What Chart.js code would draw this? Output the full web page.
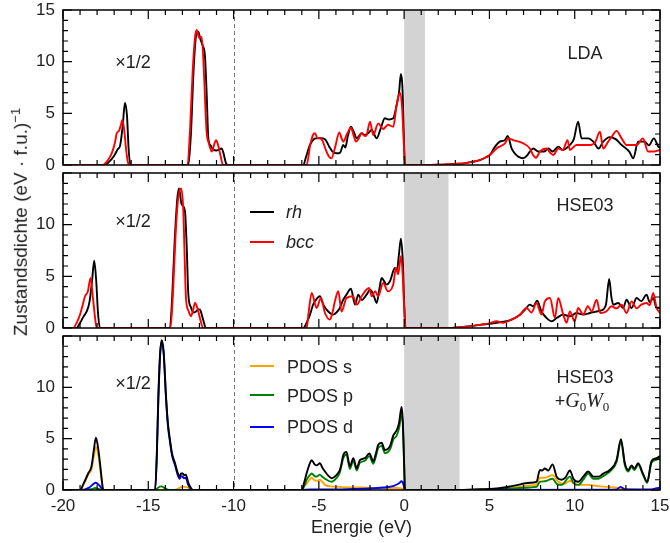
<!DOCTYPE html>
<html>
<head>
<meta charset="utf-8">
<script src="https://cdn.jsdelivr.net/npm/chart.js@4.4.1/dist/chart.umd.min.js"></script>
<style>
  body { margin: 0; background: #fff; }
  #wrap { position: relative; width: 670px; height: 543px; overflow: hidden; font-family: 'Liberation Sans', Arial, sans-serif; color: #222; }
  canvas { position: absolute; left: 0; top: 0; }
  .lbl { position: absolute; transform: translate(-50%, -50%); white-space: nowrap; font-size: 18px; }
  .leg { position: absolute; transform: translateY(-50%); white-space: nowrap; font-size: 18px; }
  .sw { position: absolute; width: 24px; height: 0; border-top: 2px solid; margin-top: -1px; }
  .m { font-family: 'Liberation Serif', serif; font-style: italic; font-size: 20px; }
  sub { font-size: 13px; font-family: 'Liberation Serif', serif; }
</style>
</head>
<body>
<div id="wrap">
  <canvas id="p1" width="670" height="543"></canvas>
  <canvas id="p2" width="670" height="543"></canvas>
  <canvas id="p3" width="670" height="543"></canvas>

  <div class="lbl" style="left:20px;top:222px;font-size:19px;transform:translate(-50%,-50%) rotate(-90deg)">Zustandsdichte (eV · f.u.)<sup style="font-size:13px">−1</sup></div>

  <div class="lbl" style="left:133px;top:62px">×1/2</div>
  <div class="lbl" style="left:133px;top:221px">×1/2</div>
  <div class="lbl" style="left:133px;top:383px">×1/2</div>

  <div class="lbl" style="left:585px;top:53px">LDA</div>
  <div class="lbl" style="left:585px;top:205px">HSE03</div>
  <div class="lbl" style="left:585px;top:377px">HSE03</div>
  <div class="lbl" style="left:582px;top:402px">+<span class="m">G</span><sub>0</sub><span class="m">W</span><sub>0</sub></div>

  <div class="sw" style="left:250px;top:212px;border-color:#000"></div>
  <div class="leg" style="left:286px;top:212px;font-style:italic">rh</div>
  <div class="sw" style="left:250px;top:242px;border-color:#f00"></div>
  <div class="leg" style="left:286px;top:242px;font-style:italic">bcc</div>

  <div class="sw" style="left:250px;top:366px;border-color:#ffa500"></div>
  <div class="leg" style="left:287px;top:367px">PDOS s</div>
  <div class="sw" style="left:250px;top:395px;border-color:#008000"></div>
  <div class="leg" style="left:287px;top:396px">PDOS p</div>
  <div class="sw" style="left:250px;top:427px;border-color:#0000ff"></div>
  <div class="leg" style="left:287px;top:427px">PDOS d</div>
</div>
<script>
const xTickValues = [-20, -15, -10, -5, 0, 5, 10, 15];
const yTickValues = [0, 5, 10, 15];
// upper edge of the gap (grey) per panel, eV
const gapEnds = [1.22, 2.6, 3.25];
const coreCut = -10;

// [energy, DOS]
const ldaRh = [
  [-20,0],[-17.55,0],[-17.3,0.3],[-17.0,0.9],[-16.8,1.5],[-16.65,1.9],[-16.5,3.8],[-16.37,6.0],[-16.25,4.8],[-16.15,1.5],[-16.05,0],
  [-12.65,0],[-12.5,3],[-12.35,9],[-12.2,12.5],[-12.07,12.9],[-11.95,12.2],[-11.8,11.5],[-11.68,10.6],[-11.58,7],[-11.48,2.6],[-11.35,1.9],[-11.2,1.5],[-11.0,1.4],[-10.85,1.5],[-10.7,1.6],[-10.6,1.2],[-10.45,0.2],[-10.35,0],
  [-6.2,0],[-5.91,0],[-5.75,0.8],[-5.52,1.94],[-5.3,2.5],[-5.13,2.58],[-4.9,2.6],[-4.64,2.5],[-4.4,1.8],[-4.2,1.3],[-3.96,1.13],[-3.75,1.2],[-3.57,1.94],[-3.45,1.7],[-3.3,2.8],[-3.12,3.7],[-2.95,3.2],[-2.78,2.58],[-2.49,3.07],[-2.3,2.9],[-2.1,3.1],[-1.9,3.39],[-1.61,2.58],[-1.4,3.4],[-1.13,4.52],[-0.9,4.4],[-0.64,4.52],[-0.44,5.8],[-0.3,7.0],[-0.19,8.8],[-0.1,7.5],[-0.03,3.5],[0.05,0],
  [1.3,0],[2,0.02],[2.5,0.05],[3,0.1],[3.5,0.16],[4,0.3],[4.44,0.48],[4.8,0.75],[5.03,0.97],[5.3,1.7],[5.61,2.26],[5.9,2.4],[6.07,2.8],[6.3,1.6],[6.5,1.1],[6.69,0.81],[6.98,0.65],[7.2,0.9],[7.37,1.3],[7.57,1.6],[7.86,1.3],[8.2,1.3],[8.45,1.6],[8.7,1.3],[9.04,1.78],[9.3,1.45],[9.72,1.94],[9.95,2.5],[10.2,4.2],[10.4,2.58],[10.8,2.58],[11.09,2.26],[11.4,1.6],[11.67,2.26],[12.06,2.7],[12.4,2.5],[12.75,1.94],[13.2,1.3],[13.43,0.65],[13.72,2.26],[14.1,2.26],[14.35,1.9],[14.64,2.58],[14.9,1.78],[15,1.7]
];
const ldaBcc = [
  [-20,0],[-17.65,0],[-17.4,0.4],[-17.15,1.1],[-16.95,2.2],[-16.85,3.07],[-16.72,3.3],[-16.6,3.9],[-16.52,4.35],[-16.4,3.2],[-16.3,1.5],[-16.2,0.3],[-16.1,0],
  [-12.7,0],[-12.55,3.5],[-12.4,9],[-12.25,12.5],[-12.16,13.07],[-12.02,12.3],[-11.87,12.4],[-11.75,9.5],[-11.65,5.5],[-11.58,3.2],[-11.45,2.1],[-11.28,1.3],[-11.15,1.9],[-11.03,2.4],[-10.9,1.9],[-10.75,0.8],[-10.62,0],
  [-6.2,0],[-5.72,0],[-5.5,2.0],[-5.35,2.9],[-5.23,3.07],[-5.08,2.6],[-4.94,2.58],[-4.8,2.4],[-4.6,1.5],[-4.4,0.8],[-4.26,0.65],[-4.05,1.7],[-3.8,3.16],[-3.67,2.6],[-3.57,2.26],[-3.35,3.0],[-3.12,3.6],[-2.95,2.8],[-2.83,2.26],[-2.65,2.6],[-2.5,3.07],[-2.3,2.8],[-2.2,2.9],[-2.0,4.2],[-1.81,2.9],[-1.52,4.03],[-1.23,3.48],[-0.95,3.9],[-0.64,3.7],[-0.44,5.8],[-0.25,7.0],[-0.12,5.5],[-0.03,2.5],[0.05,0],
  [1.3,0],[2,0.02],[2.5,0.05],[3,0.1],[3.5,0.16],[4,0.3],[4.44,0.48],[4.8,0.75],[5.03,0.97],[5.42,1.6],[5.91,2.1],[6.1,2.58],[6.4,2.4],[6.98,2.1],[7.37,1.6],[7.55,1.0],[7.73,0.7],[7.96,1.3],[8.35,1.6],[8.55,1.2],[8.74,0.97],[9.04,1.6],[9.3,1.45],[9.58,2.4],[9.72,1.45],[10.1,1.94],[10.9,1.94],[11.2,2.2],[11.48,3.23],[11.67,1.6],[11.96,2.26],[12.2,2.8],[12.45,3.3],[12.75,2.58],[13.04,1.94],[13.63,1.94],[14.0,2.58],[14.3,1.3],[14.6,1.3],[15,1.45]
];
const hseRh = [
  [-20,0],[-19.2,0],[-19.0,0.5],[-18.8,1.1],[-18.61,1.6],[-18.45,2.5],[-18.3,4.5],[-18.17,6.52],[-18.05,4.5],[-17.95,1.5],[-17.83,0],
  [-13.73,0],[-13.6,3],[-13.45,8.5],[-13.3,12.5],[-13.2,13.5],[-13.05,12.0],[-12.85,11.3],[-12.75,8],[-12.65,3.2],[-12.5,2.0],[-12.35,1.5],[-12.2,1.6],[-12.05,1.8],[-11.97,1.78],[-11.85,1.2],[-11.7,0.3],[-11.62,0],
  [-6.2,0],[-5.91,0],[-5.72,0.5],[-5.52,1.29],[-5.35,2.2],[-5.23,2.58],[-4.94,3.07],[-4.74,2.26],[-4.45,1.6],[-4.16,1.29],[-3.97,1.5],[-3.77,1.94],[-3.57,2.74],[-3.38,3.23],[-3.12,3.8],[-2.88,2.26],[-2.69,3.23],[-2.49,2.7],[-2.2,3.23],[-2.0,3.7],[-1.8,3.2],[-1.61,2.42],[-1.45,3.8],[-1.32,4.84],[-1.03,4.2],[-0.84,4.5],[-0.54,5.8],[-0.42,5.6],[-0.3,7.2],[-0.19,8.65],[-0.08,6.5],[0.0,2.5],[0.08,0],
  [2.7,0],[3.47,0.1],[4.44,0.3],[5.42,0.5],[6.3,0.81],[6.79,1.29],[7.1,1.8],[7.37,2.26],[7.57,2.1],[7.8,2.64],[8.05,1.6],[8.35,0.97],[8.65,0.65],[8.94,0.97],[9.33,1.29],[9.72,1.13],[10.1,1.45],[10.5,1.3],[10.9,1.45],[11.28,1.6],[11.55,1.7],[11.83,2.26],[12.02,4.74],[12.15,3.0],[12.26,2.26],[12.55,2.42],[12.84,1.94],[13.04,2.74],[13.33,1.94],[13.63,2.9],[13.9,2.6],[14.21,3.23],[14.4,2.5],[14.6,2.9],[14.8,1.94],[15,1.94]
];
const hseBcc = [
  [-20,0],[-19.4,0],[-19.2,0.5],[-19.0,1.3],[-18.85,2.2],[-18.71,3.07],[-18.55,3.5],[-18.38,4.84],[-18.25,3.0],[-18.12,1.0],[-18.03,0],
  [-13.7,0],[-13.55,3.5],[-13.4,9],[-13.25,12.5],[-13.08,13.5],[-12.95,11.5],[-12.87,7],[-12.79,2.9],[-12.65,1.7],[-12.5,1.13],[-12.38,1.7],[-12.26,2.42],[-12.1,1.8],[-11.95,0.8],[-11.78,0],
  [-6.2,0],[-5.72,0],[-5.6,1.5],[-5.42,3.39],[-5.13,1.94],[-4.88,2.9],[-4.64,1.45],[-4.35,0.81],[-4.2,1.5],[-4.06,2.58],[-3.86,3.55],[-3.67,1.6],[-3.38,2.9],[-3.0,3.07],[-2.78,2.26],[-2.49,3.07],[-2.06,3.87],[-1.9,3.07],[-1.7,3.55],[-1.52,3.07],[-1.23,4.36],[-0.95,3.55],[-0.64,4.2],[-0.48,5.8],[-0.35,5.2],[-0.19,6.94],[-0.08,5.0],[0.0,2.0],[0.07,0],
  [2.7,0],[3.47,0.1],[4.44,0.3],[5.0,0.45],[5.42,0.65],[5.8,0.5],[6.3,0.81],[6.79,1.29],[7.18,1.94],[7.47,1.5],[7.76,2.42],[8.05,1.29],[8.25,2.58],[8.55,2.9],[8.84,0.97],[9.03,2.9],[9.33,1.29],[9.52,0.5],[9.72,1.6],[10.0,0.65],[10.2,1.94],[10.5,1.3],[10.77,2.1],[11.0,1.6],[11.28,2.74],[11.5,1.45],[11.85,1.6],[12.16,2.1],[12.45,1.9],[12.75,2.26],[13.04,1.45],[13.33,2.58],[13.63,1.9],[13.9,2.26],[14.21,2.42],[14.4,2.2],[14.6,3.39],[14.8,1.94],[15,1.45]
];
const gwTotal = [
  [-20,0],[-19.0,0],[-18.8,0.6],[-18.52,1.63],[-18.33,2.3],[-18.2,3.8],[-18.07,5.1],[-17.95,4.2],[-17.83,2.6],[-17.72,0.9],[-17.64,0],
  [-14.6,0],[-14.5,3.5],[-14.41,9.1],[-14.3,13.5],[-14.21,14.6],[-14.1,13.5],[-13.96,9.1],[-13.85,6.5],[-13.73,4.9],[-13.6,3.5],[-13.43,2.6],[-13.3,1.8],[-13.16,1.3],[-13.08,1.6],[-12.99,1.6],[-12.9,1.45],[-12.8,1.5],[-12.7,1.0],[-12.63,0.6],[-12.5,0.2],[-12.4,0],
  [-6.3,0],[-6.0,0],[-5.85,0.8],[-5.72,1.6],[-5.55,2.5],[-5.42,2.9],[-5.25,2.5],[-5.13,2.4],[-4.94,2.6],[-4.8,2.2],[-4.64,1.8],[-4.45,1.4],[-4.25,1.15],[-4.0,1.4],[-3.77,1.94],[-3.67,2.6],[-3.57,3.4],[-3.38,3.7],[-3.18,2.3],[-2.98,3.1],[-2.78,2.1],[-2.6,2.9],[-2.3,3.1],[-2.04,3.55],[-1.81,2.8],[-1.65,3.6],[-1.52,4.4],[-1.32,4.6],[-1.13,3.9],[-0.95,4.0],[-0.8,4.4],[-0.64,5.3],[-0.44,5.8],[-0.3,6.5],[-0.15,8.1],[-0.07,6.5],[0.0,2.5],[0.05,0],
  [3.25,0],[4.0,0.05],[5.42,0.15],[6.4,0.4],[7.37,0.7],[7.76,0.8],[7.96,1.95],[8.1,1.9],[8.25,2.1],[8.45,1.9],[8.7,2.5],[8.94,1.3],[9.23,1.0],[9.45,1.2],[9.72,1.9],[9.92,1.1],[10.21,0.8],[10.5,1.3],[10.79,1.8],[11.09,1.3],[11.4,1.3],[11.67,1.6],[12.06,1.95],[12.45,2.9],[12.71,4.95],[12.94,2.6],[13.14,1.95],[13.33,2.4],[13.5,2.1],[13.72,2.6],[14.0,1.6],[14.25,0.8],[14.5,2.8],[14.8,3.1],[15,3.3]
];
const gwS = [
  [-20,0],[-19.0,0],[-18.8,0.5],[-18.52,1.5],[-18.33,2.0],[-18.2,3.2],[-18.07,4.2],[-17.95,3.6],[-17.83,2.2],[-17.72,0.7],[-17.64,0],
  [-13.5,0],[-13.3,0.1],[-13.1,0.25],[-12.9,0.3],[-12.7,0.25],[-12.5,0.05],[-12.4,0],
  [-6.0,0],[-5.85,0.4],[-5.72,0.6],[-5.6,0.9],[-5.42,1.2],[-5.25,0.95],[-5.13,0.9],[-4.94,1.0],[-4.8,0.8],[-4.64,0.5],[-4.3,0.35],[-3.8,0.3],[-3.2,0.25],[-2.5,0.25],[-1.8,0.2],[-1.0,0.2],[-0.4,0.2],[-0.15,0.15],[0.03,0],
  [3.25,0],[5.0,0.05],[6.4,0.2],[7.37,0.45],[7.76,0.5],[7.96,1.2],[8.25,1.2],[8.7,1.45],[9.04,0.8],[9.4,0.6],[9.72,0.9],[10.1,0.5],[10.8,0.5],[11.5,0.35],[12.3,0.25],[13.0,0.1],[13.5,0.03],[14,0],[15,0]
];
const gwP = [
  [-20,0],[-18.6,0],[-18.3,0.1],[-18.1,0.2],[-17.9,0.1],[-17.7,0],
  [-14.6,0],[-14.45,0.2],[-14.25,0.35],[-14.0,0.15],[-13.8,0],
  [-6.0,0],[-5.85,0.4],[-5.72,1.0],[-5.55,1.4],[-5.42,1.6],[-5.25,1.35],[-5.13,1.3],[-4.94,1.5],[-4.8,1.3],[-4.64,1.1],[-4.45,0.9],[-4.25,0.8],[-4.0,1.1],[-3.77,1.7],[-3.67,2.4],[-3.57,3.1],[-3.38,3.45],[-3.18,2.05],[-2.98,2.85],[-2.78,1.9],[-2.6,2.65],[-2.3,2.85],[-2.04,3.3],[-1.81,2.55],[-1.65,3.3],[-1.52,4.1],[-1.32,4.3],[-1.13,3.6],[-0.95,3.7],[-0.8,4.05],[-0.64,4.9],[-0.44,5.3],[-0.3,6.0],[-0.15,7.4],[-0.07,6.0],[0.0,2.3],[0.05,0],
  [3.25,0],[5.0,0.05],[6.4,0.15],[7.37,0.25],[7.76,0.3],[7.96,0.8],[8.25,0.85],[8.7,1.1],[8.94,0.6],[9.23,0.5],[9.72,1.3],[9.92,0.7],[10.21,0.5],[10.5,1.0],[10.79,1.6],[11.09,1.1],[11.4,1.1],[11.67,1.35],[12.06,1.8],[12.45,2.7],[12.71,4.7],[12.94,2.4],[13.14,1.8],[13.33,2.25],[13.5,1.95],[13.72,2.45],[14.0,1.5],[14.25,0.7],[14.5,2.65],[14.8,2.95],[15,3.15]
];
const gwD = [
  [-20,0],[-18.9,0],[-18.5,0.2],[-18.2,0.6],[-18.1,0.7],[-17.9,0.5],[-17.7,0.1],[-17.6,0],
  [-14.6,0],[-14.5,3.3],[-14.41,8.8],[-14.3,13.3],[-14.21,14.4],[-14.1,13.3],[-13.96,8.9],[-13.85,6.3],[-13.73,4.7],[-13.6,3.3],[-13.43,2.4],[-13.3,1.6],[-13.16,1.1],[-13.08,1.35],[-12.99,1.3],[-12.9,1.15],[-12.8,1.2],[-12.7,0.7],[-12.63,0.4],[-12.5,0.1],[-12.4,0],
  [-6.0,0],[-5.5,0.05],[-4.5,0.05],[-3.0,0.1],[-2.0,0.15],[-1.2,0.25],[-0.6,0.4],[-0.3,0.65],[-0.15,0.85],[-0.05,0.6],[0.05,0],
  [3.25,0],[12.4,0.02],[12.7,0.3],[12.95,0.05],[14.5,0.05],[14.9,0.2],[15,0.2]
];

const panelDeco = {
  id: 'panelDeco',
  beforeDatasetsDraw(chart, args, opts) {
    const { ctx, chartArea: a, scales: { x } } = chart
    ctx.save()
    // band gap
    const x0 = x.getPixelForValue(0), x1 = x.getPixelForValue(opts.gapEnd)
    ctx.fillStyle = '#d3d3d3'
    ctx.fillRect(x0, a.top, x1 - x0, a.bottom - a.top)
    // core / valence separator
    const xc = Math.round(x.getPixelForValue(coreCut)) + 0.5
    ctx.strokeStyle = '#777'
    ctx.lineWidth = 1
    ctx.setLineDash([4, 3])
    ctx.beginPath()
    ctx.moveTo(xc, a.top)
    ctx.lineTo(xc, a.bottom)
    ctx.stroke()
    ctx.restore()
  },
  afterDatasetsDraw(chart) {
    const { ctx, chartArea: a, scales: { x, y } } = chart
    ctx.save()
    ctx.strokeStyle = '#000'
    ctx.lineWidth = 1.2
    ctx.beginPath()
    for (let v = x.min; v <= x.max; v++) {
      const p = x.getPixelForValue(v), len = v % 5 === 0 ? 9 : 5
      ctx.moveTo(p, a.bottom); ctx.lineTo(p, a.bottom - len)
      ctx.moveTo(p, a.top); ctx.lineTo(p, a.top + len)
    }
    for (let v = y.min; v <= y.max; v++) {
      const p = y.getPixelForValue(v), len = v % 5 === 0 ? 9 : 5
      ctx.moveTo(a.left, p); ctx.lineTo(a.left + len, p)
      ctx.moveTo(a.right, p); ctx.lineTo(a.right - len, p)
    }
    ctx.stroke()
    ctx.lineWidth = 1.5
    ctx.strokeRect(a.left, a.top, a.right - a.left, a.bottom - a.top)
    ctx.restore()
  }
}

function makePanel(id, sets, gapEnd, top, bottom, showX) {
  return new Chart(document.getElementById(id), {
    type: 'line',
    data: {
      datasets: sets.map(s => ({
        data: s.pts.map(p => ({ x: p[0], y: p[1] })),
        borderColor: s.color,
        borderWidth: 1.9,
        pointRadius: 0,
        cubicInterpolationMode: 'monotone',
        order: s.order
      }))
    },
    options: {
      responsive: false,
      animation: false,
      devicePixelRatio: 1,
      layout: { padding: { top: top, right: 10, bottom: showX ? 0 : 543 - bottom, left: 0 } },
      plugins: { legend: { display: false }, tooltip: { enabled: false }, panelDeco: { gapEnd } },
      scales: {
        x: {
          type: 'linear', min: -20, max: 15, display: showX,
          grid: { display: false, drawTicks: false }, border: { display: false },
          afterBuildTicks: s => { s.ticks = xTickValues.map(v => ({ value: v })) },
          afterFit: s => {
            s.height = showX ? 53 : 0
            s.paddingLeft = 0
            s.paddingRight = 0
          },
          ticks: { padding: 6, maxRotation: 0, autoSkip: false, font: { size: 17 }, color: '#222' },
          title: { display: true, text: 'Energie (eV)', font: { size: 18 }, color: '#222', padding: { top: 3 } }
        },
        y: {
          min: 0, max: 15,
          grid: { display: false, drawTicks: false }, border: { display: false },
          afterBuildTicks: s => { s.ticks = yTickValues.map(v => ({ value: v })) },
          afterFit: s => {
            s.width = 63
            s.paddingTop = 0
            s.paddingBottom = 0
          },
          ticks: { padding: 8, font: { size: 17 }, color: '#222',
            callback: v => (v === 15 && id !== 'p1') ? '' : v }
        }
      }
    },
    plugins: [panelDeco]
  })
}

Chart.defaults.font.family = "'Liberation Sans', Arial, sans-serif"

makePanel('p1', [
  { pts: ldaRh, color: '#000', order: 1 },
  { pts: ldaBcc, color: '#f00', order: 0 }
], gapEnds[0], 10, 165, false)

makePanel('p2', [
  { pts: hseRh, color: '#000', order: 1 },
  { pts: hseBcc, color: '#f00', order: 0 }
], gapEnds[1], 173, 328, false)

makePanel('p3', [
  { pts: gwS, color: '#ffa500', order: 3 },
  { pts: gwP, color: '#008000', order: 2 },
  { pts: gwD, color: '#0000ff', order: 1 },
  { pts: gwTotal, color: '#000', order: 0 }
], gapEnds[2], 336, 490, true)
</script>
</body>
</html>
